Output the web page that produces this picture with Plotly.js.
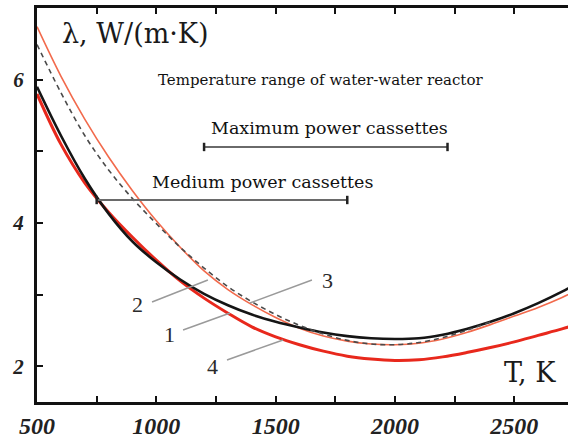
<!DOCTYPE html>
<html>
<head>
<meta charset="utf-8">
<script src="https://cdn.plot.ly/plotly-3.0.1.min.js"></script>
<style>
html, body { margin: 0; padding: 0; overflow: hidden; background: #fff; }
#chart { width: 580px; height: 442px; }
</style>
</head>
<body>
<div id="chart"></div>
<script>
// Temperature, K
const T = [500, 600, 700, 800, 900, 1000, 1100, 1200, 1300, 1400, 1500, 1600, 1700, 1800, 1900, 2000, 2100, 2200, 2300, 2400, 2500, 2600, 2700, 2750];
// Curve 1 (black)
const lambda1 = [5.90, 5.22, 4.62, 4.13, 3.74, 3.45, 3.21, 3.01, 2.85, 2.72, 2.62, 2.54, 2.47, 2.42, 2.39, 2.38, 2.39, 2.44, 2.52, 2.62, 2.74, 2.88, 3.04, 3.13];
// Curve 2 (thin red)
const lambda2 = [6.74, 6.05, 5.45, 4.92, 4.45, 4.03, 3.66, 3.33, 3.07, 2.86, 2.68, 2.53, 2.42, 2.35, 2.31, 2.30, 2.32, 2.38, 2.47, 2.58, 2.70, 2.82, 2.96, 3.04];
// Curve 3 (dashed)
const T3 = [500, 600, 700, 800, 900, 1000, 1100, 1200, 1300, 1400, 1500, 1600, 1700, 1800, 1900, 2000, 2100, 2200, 2300, 2400];
const lambda3 = [6.49, 5.82, 5.22, 4.74, 4.34, 3.99, 3.66, 3.37, 3.11, 2.90, 2.72, 2.57, 2.45, 2.36, 2.31, 2.30, 2.33, 2.40, 2.50, 2.62];
// Curve 4 (thick red)
const lambda4 = [5.80, 5.10, 4.56, 4.15, 3.80, 3.48, 3.19, 2.95, 2.74, 2.55, 2.41, 2.30, 2.21, 2.14, 2.10, 2.08, 2.09, 2.13, 2.19, 2.26, 2.34, 2.43, 2.52, 2.57];
// Temperature ranges
const maxPowerRange = [1200, 2220];
const mediumPowerRange = [750, 1800];
const maxPowerLevel = 5.06;
const mediumPowerLevel = 4.32;

const serif = 'DejaVu Serif, Liberation Serif, serif';
const tickFont = 'Liberation Serif, Times New Roman, serif';

const traces = [
  {x: T, y: lambda4, mode: 'lines', line: {color: '#e8281c', width: 3, shape: 'spline', smoothing: 1}, hoverinfo: 'skip'},
  {x: T, y: lambda2, mode: 'lines', line: {color: '#f26a4c', width: 1.6, shape: 'spline', smoothing: 1}, hoverinfo: 'skip'},
  {x: T, y: lambda1, mode: 'lines', line: {color: '#151515', width: 2.6, shape: 'spline', smoothing: 1}, hoverinfo: 'skip'},
  {x: T3, y: lambda3, mode: 'lines', line: {color: '#4a4a4a', width: 1.6, dash: '5px,4px', shape: 'spline', smoothing: 1}, hoverinfo: 'skip'},
  {x: maxPowerRange, y: [maxPowerLevel, maxPowerLevel], mode: 'lines+markers',
   line: {color: '#6a6a6a', width: 2}, marker: {symbol: 'line-ns', size: 6, line: {color: '#222', width: 2.5}}, hoverinfo: 'skip'},
  {x: mediumPowerRange, y: [mediumPowerLevel, mediumPowerLevel], mode: 'lines+markers',
   line: {color: '#6a6a6a', width: 2}, marker: {symbol: 'line-ns', size: 6, line: {color: '#222', width: 2.5}}, hoverinfo: 'skip'}
];

const leader = (x0, y0, x1, y1) => ({type: 'line', xref: 'x', yref: 'y', x0: x0, y0: y0, x1: x1, y1: y1,
  line: {color: '#9a9a9a', width: 1.5}});
const num = (x, y, t) => ({x: x, y: y, xref: 'x', yref: 'y', text: t, showarrow: false,
  font: {family: 'Liberation Serif, serif', size: 22, color: '#2a2a2a'}, xanchor: 'center', yanchor: 'middle'});

const layout = {
  width: 580, height: 442,
  margin: {l: 37, r: 6, t: 8, b: 40},
  paper_bgcolor: '#fff', plot_bgcolor: '#fff',
  showlegend: false,
  xaxis: {
    range: [500, 2750], tick0: 500, dtick: 500,
    showline: true, linewidth: 3, linecolor: '#111', mirror: 'ticks',
    ticks: 'inside', ticklen: 6, tickwidth: 2, tickcolor: '#111',
    minor: {dtick: 250, ticks: 'inside', ticklen: 6, tickwidth: 2, tickcolor: '#111'},
    showgrid: false, zeroline: false,
    tickfont: {family: tickFont, size: 24, color: '#222', weight: 'bold', style: 'italic'}
  },
  yaxis: {
    range: [1.5, 7], tick0: 0, dtick: 2,
    showline: true, linewidth: 3, linecolor: '#111', mirror: 'ticks',
    ticks: 'inside', ticklen: 6, tickwidth: 2, tickcolor: '#111',
    minor: {dtick: 1, ticks: 'inside', ticklen: 6, tickwidth: 2, tickcolor: '#111'},
    showgrid: false, zeroline: false, ticklabelstandoff: 6,
    tickfont: {family: tickFont, size: 21, color: '#222', weight: 'bold', style: 'italic'}
  },
  shapes: [
    leader(982, 2.896, 1216, 3.203),
    leader(1652, 3.203, 1392, 2.882),
    leader(1112, 2.505, 1309, 2.743),
    leader(1296, 2.087, 1531, 2.366)
  ],
  annotations: [
    {x: 596, y: 6.65, xref: 'x', yref: 'y', text: 'λ, W/(m·K)', showarrow: false, xanchor: 'left', yanchor: 'middle',
     font: {family: serif, size: 27, color: '#1a1a1a'}},
    {x: 1686, y: 6.0, xref: 'x', yref: 'y', text: 'Temperature range of water-water reactor', showarrow: false,
     font: {family: serif, size: 15, color: '#111'}},
    {x: 1727, y: 5.325, xref: 'x', yref: 'y', text: 'Maximum power cassettes', showarrow: false,
     font: {family: serif, size: 17.5, color: '#111'}},
    {x: 1443, y: 4.57, xref: 'x', yref: 'y', text: 'Medium power cassettes', showarrow: false,
     font: {family: serif, size: 17.5, color: '#111'}},
    {x: 2565, y: 1.905, xref: 'x', yref: 'y', text: 'T, K', showarrow: false,
     font: {family: serif, size: 27, color: '#1a1a1a'}},
    num(923, 2.855, '2'),
    num(1719, 3.203, '3'),
    num(1057, 2.436, '1'),
    num(1237, 1.989, '4')
  ]
};

Plotly.newPlot('chart', traces, layout, {displayModeBar: false, staticPlot: true});
</script>
</body>
</html>
